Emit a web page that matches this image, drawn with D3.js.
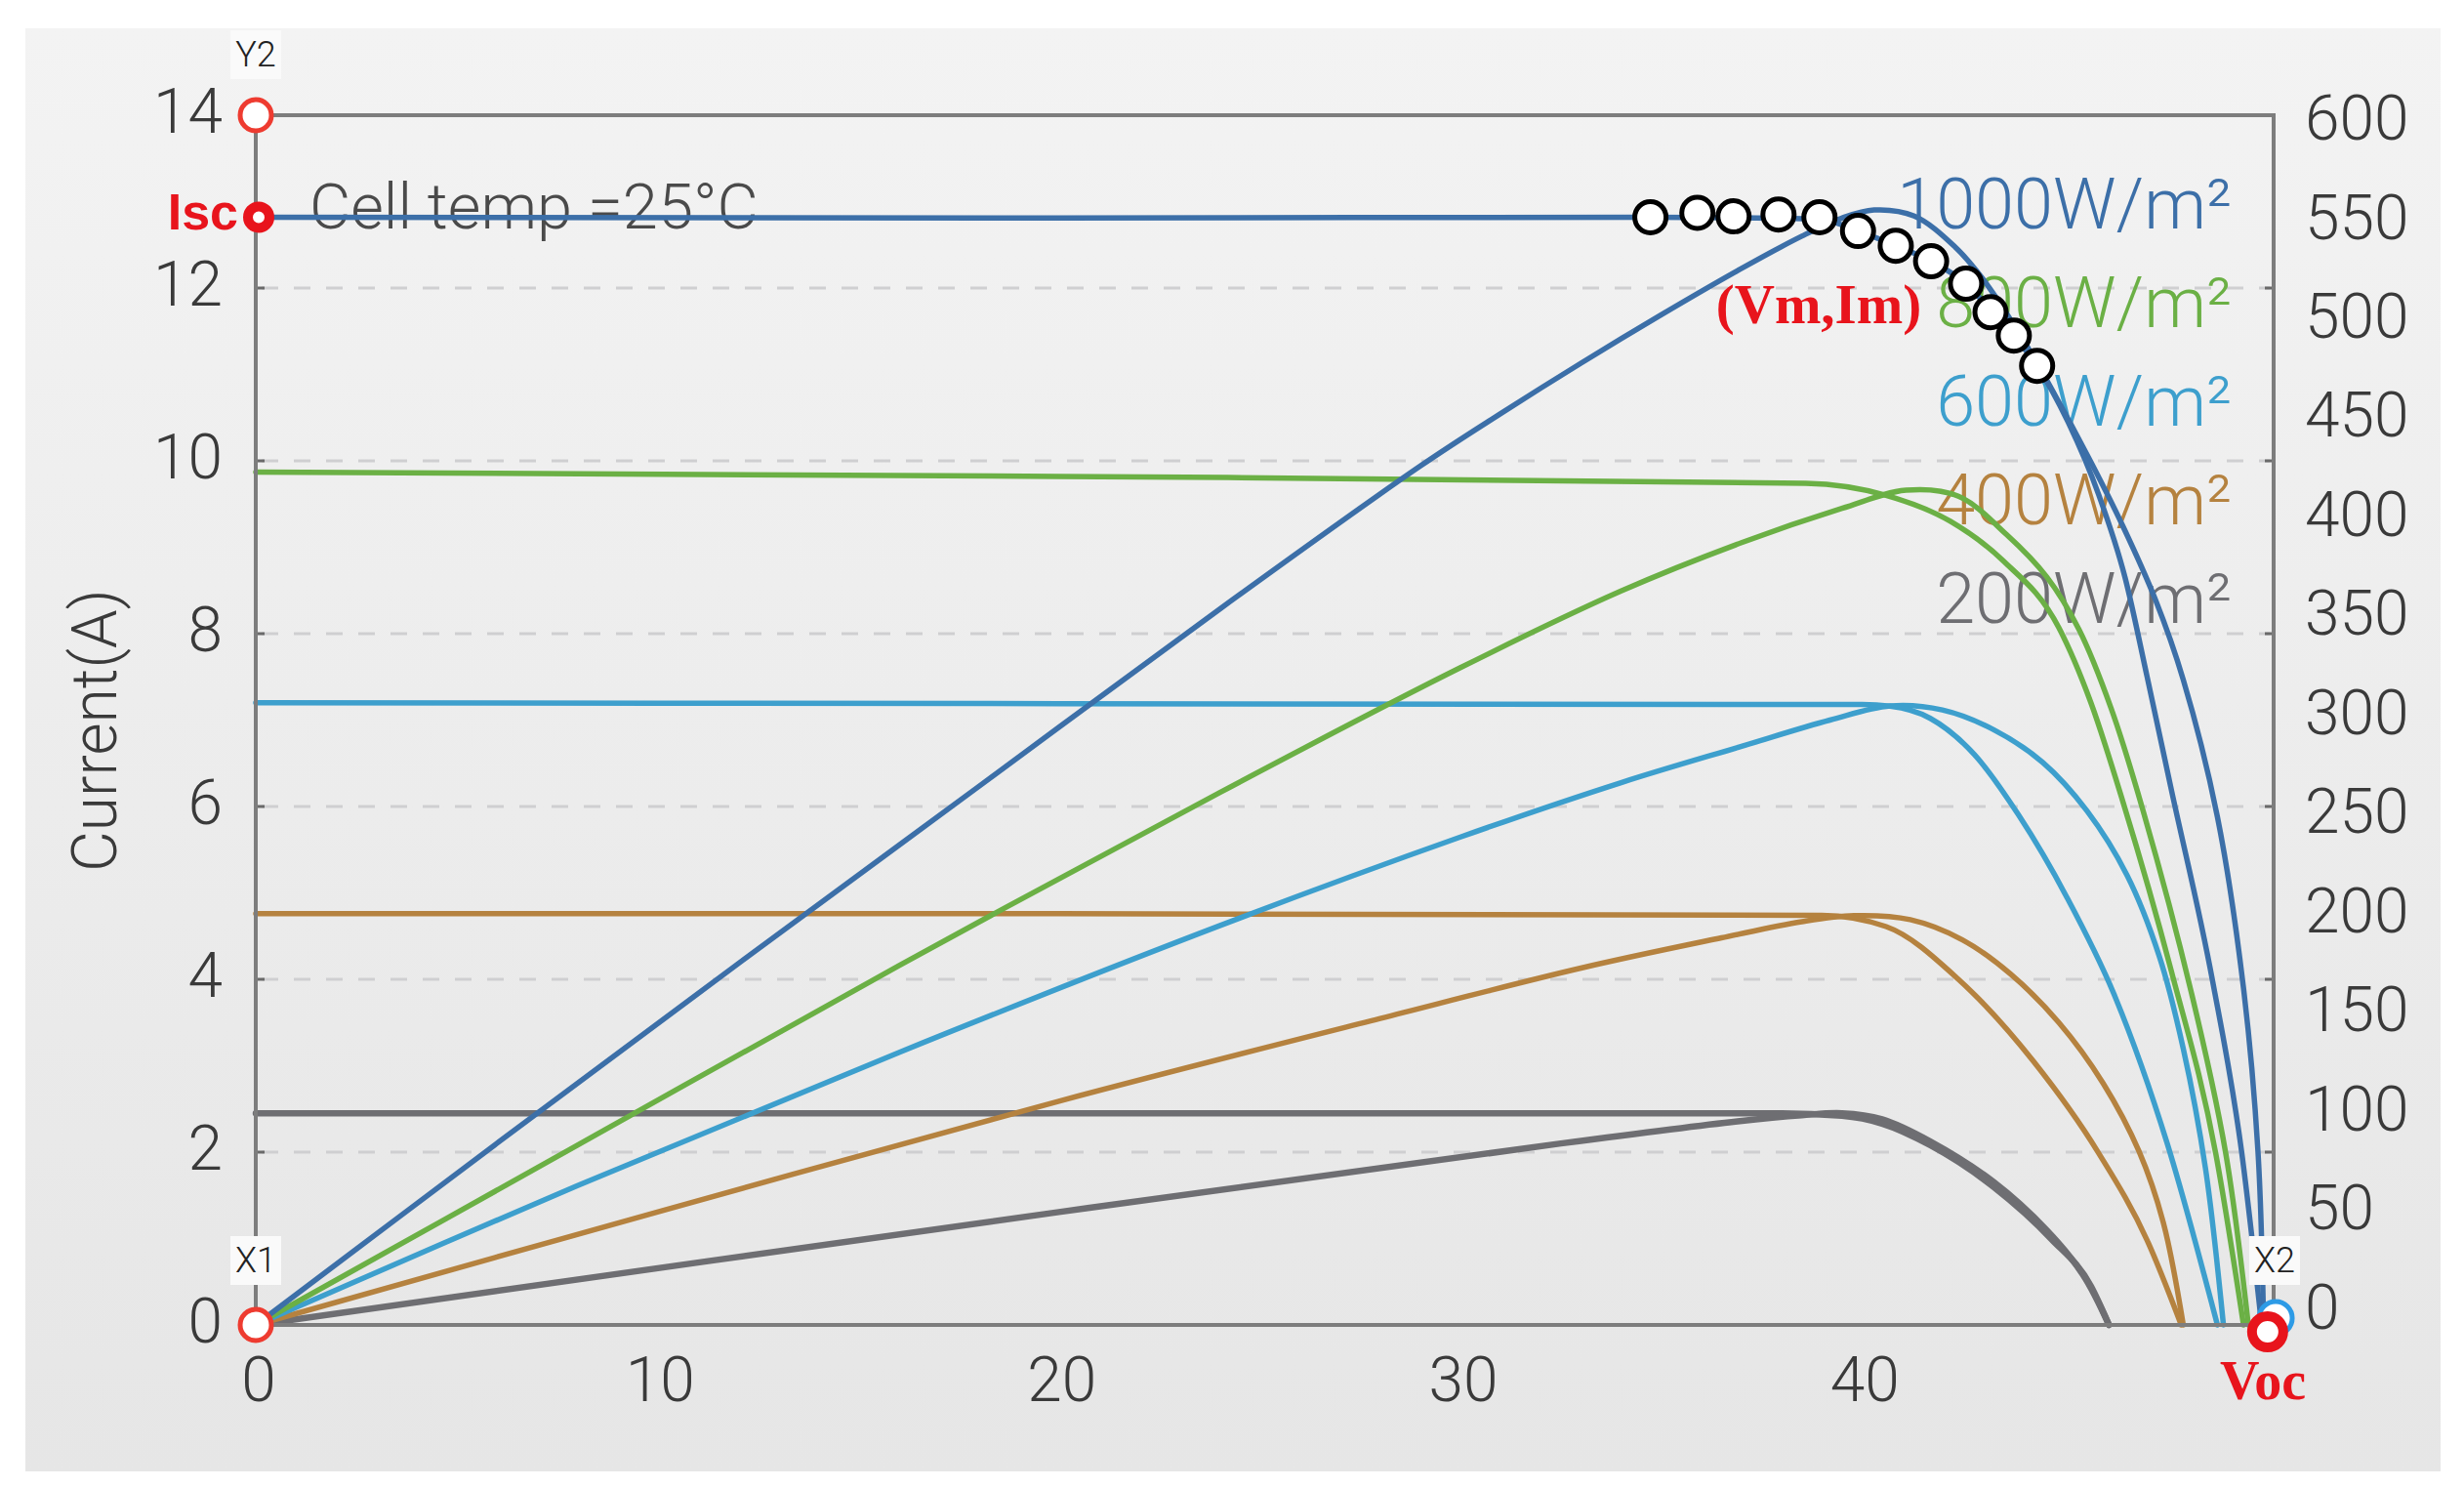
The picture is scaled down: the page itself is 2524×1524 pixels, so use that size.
<!DOCTYPE html>
<html><head><meta charset="utf-8">
<script src="https://cdn.jsdelivr.net/npm/d3@7"></script>
<style>html,body{margin:0;padding:0;background:#fff;} svg{display:block;}</style>
</head><body>
<svg id="chart" width="2524" height="1524"></svg>
<script>
// ---------------- data ----------------
const xTicks = [0, 10, 20, 30, 40];
const yTicks = [0, 2, 4, 6, 8, 10, 12, 14];
const gridTicks = [2, 4, 6, 8, 10, 12];
const powerTicks = [0, 50, 100, 150, 200, 250, 300, 350, 400, 450, 500, 550, 600];
const irradianceLabels = ["1000W/m²", "800W/m²", "600W/m²", "400W/m²", "200W/m²"];

// I-V curves: [voltage V, current A]
const iv1000 = [[0,12.82],[20,12.81],[34.7,12.82],[38.9,12.8],[39.9,12.66],[40.84,12.49],[41.72,12.31],[42.59,12.05],[43.2,11.75],[43.78,11.45],[44.36,11.1],[45.13,10.45],[45.9,9.6],[46.55,8.65],[47.1,7.5],[47.7,6.2],[48.73,3.98],[49.46,1.98],[49.95,0]];
const iv800 = [[0,9.87],[20,9.82],[38.6,9.74],[40.6,9.6],[42.2,9.3],[43.5,8.85],[44.9,8.07],[45.7,7.2],[46.5,6.05],[47.7,4.1],[48.81,1.98],[49.5,0]];
const iv600 = [[0,7.2],[20,7.19],[40,7.18],[40.7,7.16],[41.7,7.02],[42.8,6.6],[43.9,5.9],[45.1,4.95],[46.3,3.8],[47.6,2.1],[48.85,0]];
const iv400 = [[0,4.76],[20,4.76],[39,4.74],[40.6,4.61],[42.4,4.0],[44.27,3.05],[45.89,1.99],[47.1,0.98],[47.95,0]];
const iv200 = [[0,2.45],[20,2.45],[38,2.45],[39.5,2.42],[40.5,2.33],[41.7,2.08],[43.27,1.6],[44.7,1.0],[45.7,0.45],[46.15,0]];

// P-V curves: [voltage V, power W]
const pv1000 = [[0,0],[6,90],[12,179],[18,267],[24,355],[29,426],[31,452],[33,477],[35,501],[37,524],[38.5,540],[39.5,549],[40.3,553],[41.3,550],[42.3,535],[43,519],[44,489],[44.7,465],[45.7,428],[46.5,396],[47.3,360],[48,320],[48.85,252],[49.5,167],[49.86,86],[50,0]];
const pv800 = [[0,0],[8,89],[16,178],[24,264],[30,326],[34,364],[37,388],[39.5,405],[41.1,414],[42.4,411],[43.6,392],[44.6,371],[45.4,345],[46.2,306],[47,255],[48.2,165],[49.05,86],[49.62,0]];
const pv600 = [[0,0],[8,69],[16,135],[24,198],[30,242],[34,269],[37,287],[39.2,300],[40.7,307],[42,305],[43.3,295],[44.5,279],[45.6,255],[46.6,223],[47.4,183],[48,137],[48.55,78],[49,0]];
const pv400 = [[0,0],[10,56],[20,111],[28,152],[33,177],[36.5,192],[38.5,200],[39.8,203],[41.2,201],[42.5,191],[43.7,174],[44.9,150],[46,120],[46.9,86],[47.5,51],[48,0]];
const pv200 = [[0,0],[20,56],[32.5,90],[36.9,101],[38.5,104],[39.5,105],[40.5,102],[41.7,91],[43.27,71],[44.6,47],[45.5,25],[46.15,0]];

// traced maximum-power locus (Vm, Im)
const mppTrace = [[34.73,12.82],[35.9,12.87],[36.8,12.83],[37.92,12.85],[38.94,12.82],[39.9,12.66],[40.84,12.49],[41.72,12.31],[42.59,12.05],[43.2,11.72],[43.78,11.45],[44.36,11.1]];

const y2Point = [0, 14];
const x1Point = [0, 0];
const iscPoint = [0, 12.82];
const vocPoint = [50.1, -0.08];
const vocBluePoint = [50.3, 0.08];
const x2Point = [50.25, 0];

// ---------------- layout / styles ----------------
const W = 2524, H = 1524;
const colors = ["#3c6fa8", "#6bb045", "#3d9fcd", "#b5823f", "#6e6e72"];
const ivSeries = [iv1000, iv800, iv600, iv400, iv200];
const pvSeries = [pv1000, pv800, pv600, pv400, pv200];
const textFont = "Roboto, 'Liberation Sans', sans-serif";
const redFont = "'Liberation Sans', Arial, sans-serif";
const serifFont = "'Liberation Serif', 'Times New Roman', serif";
const red = "#e8141c";

const svg = d3.select("#chart");
const x = d3.scaleLinear().domain([0, 50.25]).range([262, 2329]);
const y = d3.scaleLinear().domain([0, 14]).range([1357, 118]);
const yP = d3.scaleLinear().domain([0, 600]).range([y(0), y(14)]);
const yPLabel = d3.scaleLinear().domain([0, 600]).range([y(0.2), y(13.96)]);

// background panel
const defs = svg.append("defs");
const grad = defs.append("linearGradient").attr("id", "bg").attr("x1", 0).attr("y1", 0).attr("x2", 0).attr("y2", 1);
grad.append("stop").attr("offset", "0%").attr("stop-color", "#f3f3f3");
grad.append("stop").attr("offset", "100%").attr("stop-color", "#e6e6e6");
svg.append("rect").attr("width", W).attr("height", H).attr("fill", "#fff");
svg.append("rect").attr("x", 26).attr("y", 29).attr("width", 2474).attr("height", 1478).attr("fill", "url(#bg)");

// gridlines
svg.append("g").selectAll("line").data(gridTicks).join("line")
  .attr("x1", x(0) + 6).attr("x2", x.range()[1] - 4)
  .attr("y1", d => y(d)).attr("y2", d => y(d))
  .attr("stroke", "#cfcfd1").attr("stroke-width", 3).attr("stroke-dasharray", "17,16");
svg.append("g").selectAll("line").data(gridTicks).join("line")
  .attr("x1", x(0)).attr("x2", x(0) + 9).attr("y1", d => y(d)).attr("y2", d => y(d))
  .attr("stroke", "#6a6a6a").attr("stroke-width", 3);
svg.append("g").selectAll("line").data(gridTicks).join("line")
  .attr("x1", x.range()[1] - 9).attr("x2", x.range()[1]).attr("y1", d => y(d)).attr("y2", d => y(d))
  .attr("stroke", "#6a6a6a").attr("stroke-width", 3);

// series labels
const labelX = 2286;
svg.append("g").selectAll("text").data(irradianceLabels).join("text")
  .attr("x", labelX).attr("y", (d, i) => 209 + i * 101)
  .attr("text-anchor", "end").attr("dominant-baseline", "central")
  .attr("font-family", textFont).attr("font-weight", 300).attr("font-size", 72)
  .attr("fill", (d, i) => colors[i]).text(d => d);

// "Cell temp" text
svg.append("text").attr("x", 317).attr("y", 212).attr("dominant-baseline", "central")
  .attr("font-family", textFont).attr("font-weight", 300).attr("font-size", 65)
  .attr("fill", "#4a4a4a").text("Cell temp =25°C");

// curves
const lineIV = d3.line().x(d => x(d[0])).y(d => y(d[1])).curve(d3.curveMonotoneX);
const linePV = d3.line().x(d => x(d[0])).y(d => yP(d[1])).curve(d3.curveCatmullRom.alpha(0.5));
const curves = svg.append("g").attr("fill", "none").attr("stroke-linecap", "round").attr("stroke-linejoin", "round");
for (let i = ivSeries.length - 1; i >= 0; i--) {
  curves.append("path").attr("d", linePV(pvSeries[i])).attr("stroke", colors[i]).attr("stroke-width", i === 4 ? 6.5 : 5.5);
  curves.append("path").attr("d", lineIV(ivSeries[i])).attr("stroke", colors[i]).attr("stroke-width", i === 4 ? 6.5 : 5.5);
}

// frame
const frame = svg.append("g").attr("stroke", "#7d7d7d").attr("stroke-width", 4).attr("fill", "none");
frame.append("rect").attr("x", x(0)).attr("y", y(14)).attr("width", x.range()[1] - x(0)).attr("height", y(0) - y(14));

// axes labels
const tickFont = textFont;
svg.append("g").selectAll("text").data(yTicks).join("text")
  .attr("x", 228).attr("y", d => y(d) - 4).attr("text-anchor", "end").attr("dominant-baseline", "central")
  .attr("font-family", tickFont).attr("font-weight", 300).attr("font-size", 64).attr("fill", "#3a3a3a")
  .text(d => d);
svg.append("g").selectAll("text").data(xTicks).join("text")
  .attr("x", d => x(d) + 3).attr("y", 1413).attr("text-anchor", "middle").attr("dominant-baseline", "central")
  .attr("font-family", tickFont).attr("font-weight", 300).attr("font-size", 64).attr("fill", "#3a3a3a")
  .text(d => d);
svg.append("g").selectAll("text").data(powerTicks).join("text")
  .attr("x", 2361).attr("y", d => yPLabel(d)).attr("text-anchor", "start").attr("dominant-baseline", "central")
  .attr("font-family", tickFont).attr("font-weight", 300).attr("font-size", 64).attr("fill", "#3a3a3a")
  .text(d => d);
svg.append("text").attr("transform", "translate(97,748) rotate(-90)")
  .attr("text-anchor", "middle").attr("dominant-baseline", "central")
  .attr("font-family", textFont).attr("font-weight", 300).attr("font-size", 64).attr("fill", "#3a3a3a")
  .text("Current(A)");

// Vm,Im traced circles
svg.append("g").selectAll("circle").data(mppTrace).join("circle")
  .attr("cx", d => x(d[0])).attr("cy", d => y(d[1])).attr("r", 16)
  .attr("fill", "#fff").attr("stroke", "#000").attr("stroke-width", 5);

// small boxed labels
function boxLabel(px, py, txt) {
  const g = svg.append("g");
  g.append("rect").attr("x", px - 26).attr("y", py - 25).attr("width", 52).attr("height", 50).attr("fill", "#fafafa");
  g.append("text").attr("x", px).attr("y", py).attr("text-anchor", "middle").attr("dominant-baseline", "central")
    .attr("font-family", textFont).attr("font-weight", 300).attr("font-size", 36).attr("fill", "#222").text(txt);
}
boxLabel(x(y2Point[0]), y(y2Point[1]) - 62, "Y2");
boxLabel(x(x1Point[0]), y(x1Point[1]) - 66, "X1");
boxLabel(x(x2Point[0]) + 1, y(x2Point[1]) - 66, "X2");

// red markers
svg.append("circle").attr("cx", x(y2Point[0])).attr("cy", y(y2Point[1])).attr("r", 16)
  .attr("fill", "#fff").attr("stroke", "#ee3b30").attr("stroke-width", 5);
svg.append("circle").attr("cx", x(x1Point[0])).attr("cy", y(x1Point[1])).attr("r", 16)
  .attr("fill", "#fff").attr("stroke", "#ee3b30").attr("stroke-width", 5);
svg.append("circle").attr("cx", x(iscPoint[0]) + 3).attr("cy", y(iscPoint[1])).attr("r", 11)
  .attr("fill", "#fff").attr("stroke", red).attr("stroke-width", 10);
svg.append("circle").attr("cx", x(vocBluePoint[0])).attr("cy", y(vocBluePoint[1])).attr("r", 17)
  .attr("fill", "#fff").attr("stroke", "#2d9be6").attr("stroke-width", 5);
svg.append("circle").attr("cx", x(vocPoint[0])).attr("cy", y(vocPoint[1])).attr("r", 16)
  .attr("fill", "#fff").attr("stroke", red).attr("stroke-width", 10);

// red text annotations
svg.append("text").attr("x", 244).attr("y", 217).attr("text-anchor", "end").attr("dominant-baseline", "central")
  .attr("font-family", redFont).attr("font-weight", 700).attr("font-size", 52).attr("fill", red).text("Isc");
svg.append("text").attr("x", 1863).attr("y", 311).attr("text-anchor", "middle").attr("dominant-baseline", "central")
  .attr("font-family", serifFont).attr("font-weight", 700).attr("font-size", 57).attr("fill", red).text("(Vm,Im)");
svg.append("text").attr("x", 2318).attr("y", 1414).attr("text-anchor", "middle").attr("dominant-baseline", "central")
  .attr("font-family", serifFont).attr("font-weight", 700).attr("font-size", 56).attr("fill", red).text("Voc");
</script>
</body></html>
